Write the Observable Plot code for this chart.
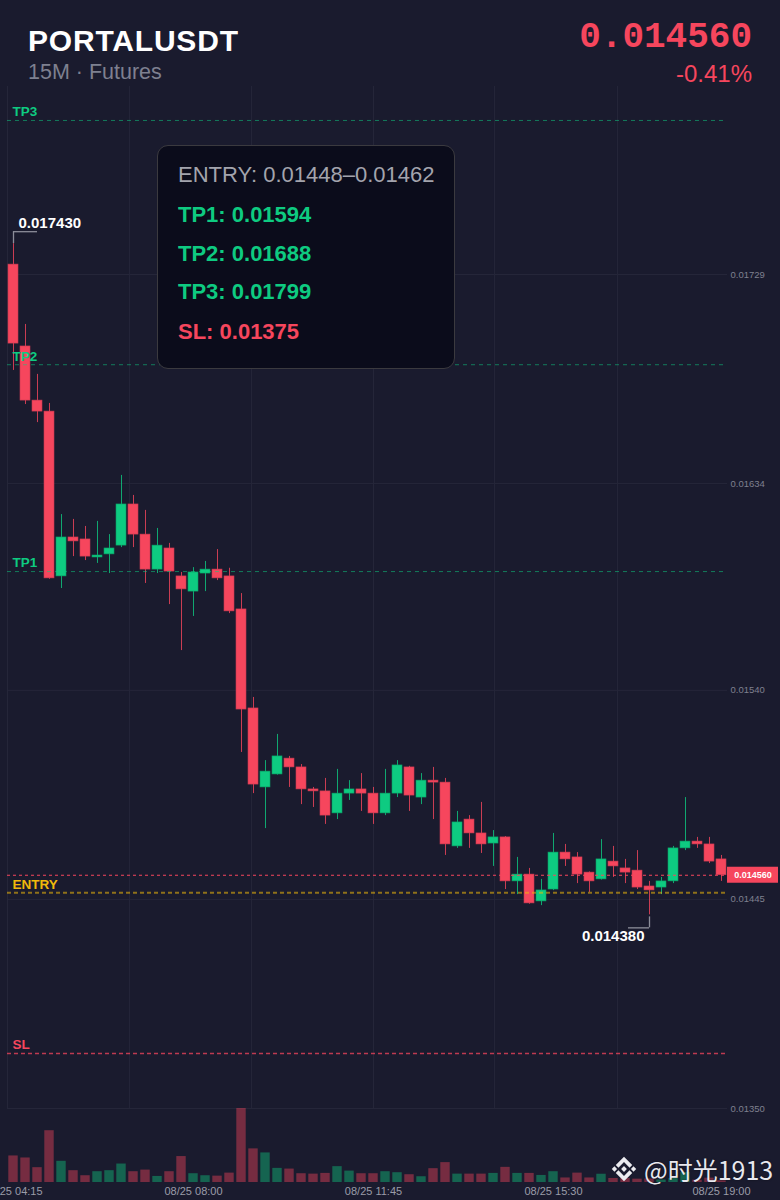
<!DOCTYPE html>
<html><head><meta charset="utf-8">
<script src="https://cdn.jsdelivr.net/npm/d3@7"></script>
<script src="https://cdn.jsdelivr.net/npm/@observablehq/plot@0.6"></script>
<style>
html,body{margin:0;padding:0;background:#1a1b2e;}
#page{position:relative;width:780px;height:1200px;overflow:hidden;background:#1a1b2e;font-family:"Liberation Sans",Arial,sans-serif;}
#page svg{position:absolute;left:0;}
.abs{position:absolute;white-space:nowrap;line-height:1;z-index:3;}
</style></head><body>
<div id="page"></div>
<script>
// ---------- data ----------
const symbol = "PORTALUSDT";
const subtitle = "15M · Futures";
const changePct = "-0.41%";

const opens = [0.017335,0.016963,0.016717,0.016667,0.015918,0.016095,0.016086,0.016004,0.016018,0.016058,
  0.016245,0.016108,0.015949,0.016045,0.015918,0.015849,0.015931,0.015949,0.015918,0.015768,
  0.015318,0.014959,0.015018,0.015090,0.015050,0.014950,0.014941,0.014841,0.014931,0.014950,
  0.014931,0.014841,0.014931,0.015050,0.014913,0.014990,0.014981,0.014691,0.014813,0.014750,
  0.014704,0.014732,0.014532,0.014563,0.014441,0.014495,0.014663,0.014641,0.014572,0.014541,
  0.014622,0.014591,0.014581,0.014509,0.014504,0.014532,0.014682,0.014713,0.014700,0.014632];
const highs = [0.017430,0.017063,0.016836,0.016704,0.016199,0.016177,0.016145,0.016168,0.016108,0.016377,
  0.016286,0.016218,0.016136,0.016068,0.015936,0.015958,0.015986,0.016040,0.015955,0.015840,
  0.015368,0.015081,0.015200,0.015100,0.015063,0.014959,0.015000,0.015041,0.014990,0.015022,
  0.014959,0.015041,0.015081,0.015055,0.015022,0.015050,0.015000,0.014850,0.014831,0.014891,
  0.014763,0.014736,0.014641,0.014591,0.014541,0.014750,0.014700,0.014663,0.014575,0.014722,
  0.014691,0.014632,0.014672,0.014532,0.014550,0.014691,0.014913,0.014732,0.014732,0.014650];
const lows = [0.016854,0.016699,0.016617,0.015905,0.015863,0.016008,0.015990,0.015977,0.015931,0.016049,
  0.016049,0.015886,0.015931,0.015790,0.015581,0.015736,0.015849,0.015899,0.015749,0.015118,
  0.014931,0.014772,0.015015,0.014959,0.014881,0.014868,0.014791,0.014813,0.014900,0.014850,
  0.014791,0.014831,0.014913,0.014850,0.014881,0.014813,0.014650,0.014682,0.014682,0.014659,
  0.014600,0.014495,0.014472,0.014428,0.014422,0.014490,0.014600,0.014522,0.014482,0.014538,
  0.014550,0.014522,0.014495,0.014380,0.014472,0.014522,0.014672,0.014682,0.014613,0.014532];
const closes = [0.016976,0.016717,0.016667,0.015909,0.016095,0.016077,0.016008,0.016013,0.016045,0.016245,
  0.016108,0.015949,0.016058,0.015940,0.015859,0.015936,0.015949,0.015909,0.015759,0.015313,
  0.014972,0.015031,0.015100,0.015050,0.014950,0.014941,0.014831,0.014931,0.014950,0.014931,
  0.014841,0.014931,0.015059,0.014922,0.014990,0.014981,0.014700,0.014800,0.014750,0.014700,
  0.014732,0.014532,0.014563,0.014432,0.014491,0.014663,0.014632,0.014563,0.014532,0.014632,
  0.014600,0.014572,0.014504,0.014491,0.014532,0.014682,0.014713,0.014700,0.014622,0.014560];
const volumes = [263,243,147,513,210,117,67,107,117,183,
  107,123,60,107,257,87,67,63,93,733,
  333,293,140,133,87,83,90,157,113,87,
  87,107,97,77,57,137,197,83,83,83,
  90,150,90,90,70,107,45,93,45,82,
  40,40,33,35,25,40,100,23,43,17];

const priceTicks = [0.01350, 0.01445, 0.01540, 0.01634, 0.01729];
const priceTickLabels = ["0.01350", "0.01445", "0.01540", "0.01634", "0.01729"];
const gridIdx = [-0.5, 9.67, 19.83, 30, 40.08, 50.33];
const xTickIdx = [0, 15, 30, 45, 59];
const xTickLabels = ["08/25 04:15", "08/25 08:00", "08/25 11:45", "08/25 15:30", "08/25 19:00"];

const levelNames = ["TP3", "TP2", "TP1", "ENTRY", "SL"];
const levelValues = [0.01799, 0.01688, 0.01594, 0.01448, 0.01375];
const entryHigh = 0.01462;
const watermark = "@时光1913";

// ---------- styles ----------
const UP = "#0ecb81", DOWN = "#f6465d", GOLD = "#f0b90b", GRID = "#252639";
const xDomain = [-0.5, 59.5];

const candles = opens.map((o, i) => ({i, open: o, high: highs[i], low: lows[i], close: closes[i], vol: volumes[i], up: closes[i] >= o}));
const ups = candles.filter(d => d.up), downs = candles.filter(d => !d.up);
const levels = levelNames.map((n, i) => ({name: n, value: levelValues[i]}));
const tps = levels.filter(d => d.name.startsWith("TP"));
const entry = levels.filter(d => d.name === "ENTRY");
const sl = levels.filter(d => d.name === "SL");
const current = closes[closes.length - 1];
const hiIdx = d3.maxIndex(highs), loIdx = d3.minIndex(lows);
const hiPt = [{i: hiIdx, v: highs[hiIdx]}], loPt = [{i: loIdx, v: lows[loIdx]}];
const levelColor = n => n === "ENTRY" ? GOLD : n === "SL" ? DOWN : UP;

const page = document.getElementById("page");

const main = Plot.plot({
  width: 780, height: 1200,
  marginTop: 86, marginBottom: 92, marginLeft: 7, marginRight: 53,
  style: {background: "transparent", fontFamily: "Liberation Sans, Arial, sans-serif", top: "0px"},
  x: {domain: xDomain, axis: null},
  y: {domain: [0.01350, 0.01729], range: [1108, 274], axis: null},
  marks: [
    Plot.ruleY(priceTicks, {stroke: GRID, strokeWidth: 1}),
    Plot.ruleX(gridIdx, {stroke: GRID, strokeWidth: 1}),
    Plot.ruleX(downs, {x: "i", y1: "low", y2: "high", stroke: DOWN, strokeOpacity: 0.8}),
    Plot.ruleX(ups, {x: "i", y1: "low", y2: "high", stroke: UP, strokeOpacity: 0.8}),
    Plot.rect(downs, {x1: d => d.i - 0.5, x2: d => d.i + 0.5, y1: "open", y2: "close", insetLeft: 1, insetRight: 1, fill: DOWN, stroke: "#c73a51", strokeWidth: 0.6}),
    Plot.rect(ups, {x1: d => d.i - 0.5, x2: d => d.i + 0.5, y1: "open", y2: "close", insetLeft: 1, insetRight: 1, fill: UP, stroke: "#0a9d65", strokeWidth: 0.6}),
    Plot.ruleY(tps, {y: "value", stroke: UP, strokeOpacity: 0.55, strokeDasharray: "4,4", strokeWidth: 1}),
    Plot.ruleY(entry, {y: "value", stroke: GOLD, strokeOpacity: 0.55, strokeDasharray: "4,3", strokeWidth: 2}),
    Plot.ruleY(sl, {y: "value", stroke: DOWN, strokeOpacity: 0.75, strokeDasharray: "4,3", strokeWidth: 1.5}),
    Plot.ruleY([current], {stroke: DOWN, strokeOpacity: 1, strokeDasharray: "3,3", strokeWidth: 1.2}),
    Plot.text(levels, {y: "value", frameAnchor: "left", dx: 5, dy: -8.5, text: "name", textAnchor: "start",
      fill: d => levelColor(d.name), fontWeight: "bold", fontSize: 13.5}),
    Plot.text(priceTicks, {y: d => d, frameAnchor: "right", dx: 3, textAnchor: "start",
      text: (d, i) => priceTickLabels[i], fill: "#7f808e", fontSize: 9.5}),
    Plot.rect([current], {x1: xDomain[1], x2: xDomain[1], y1: d => d, y2: d => d,
      insetRight: -51, insetTop: -8, insetBottom: -8, fill: DOWN}),
    Plot.text([current], {y: d => d, frameAnchor: "right", dx: 25.5, textAnchor: "middle", text: d => d.toFixed(6),
      fill: "#ffffff", fontWeight: "bold", fontSize: 9}),
    Plot.ruleX(hiPt, {x: "i", y1: "v", y2: "v", insetTop: -12, stroke: "#8b8d99", strokeWidth: 1.3}),
    Plot.ruleY(hiPt, {y: "v", x1: "i", x2: "i", insetRight: -24, dy: -12, stroke: "#8b8d99", strokeWidth: 1.3}),
    Plot.text(hiPt, {x: "i", y: "v", dx: 5, dy: -21, textAnchor: "start", text: d => d.v.toFixed(6),
      fill: "#ffffff", fontWeight: "bold", fontSize: 15}),
    Plot.ruleX(loPt, {x: "i", y1: "v", y2: "v", insetTop: 2, insetBottom: -13, stroke: "#8b8d99", strokeWidth: 1.3}),
    Plot.ruleY(loPt, {y: "v", x1: "i", x2: "i", insetLeft: -21, dy: 13, stroke: "#8b8d99", strokeWidth: 1.3}),
    Plot.text(loPt, {x: "i", y: "v", dx: -5, dy: 21, textAnchor: "end", text: d => d.v.toFixed(6),
      fill: "#ffffff", fontWeight: "bold", fontSize: 15})
  ]
});
main.style.top = "0px";
page.appendChild(main);

const vol = Plot.plot({
  width: 780, height: 100,
  marginTop: 0, marginBottom: 18, marginLeft: 7, marginRight: 53,
  style: {background: "transparent", fontFamily: "Liberation Sans, Arial, sans-serif"},
  x: {domain: xDomain, axis: null},
  y: {domain: [0, d3.max(volumes)], range: [82, 8], axis: null},
  marks: [
    Plot.rectY(downs, {x1: d => d.i - 0.5, x2: d => d.i + 0.5, y: "vol", insetLeft: 1.3, insetRight: 1.3, fill: DOWN, fillOpacity: 0.42}),
    Plot.rectY(ups, {x1: d => d.i - 0.5, x2: d => d.i + 0.5, y: "vol", insetLeft: 1.3, insetRight: 1.3, fill: UP, fillOpacity: 0.42}),
    Plot.text(xTickIdx, {x: d => d, frameAnchor: "bottom", dy: 12, text: (d, i) => xTickLabels[i], fill: "#9a9ba8", fontSize: 11})
  ]
});
vol.style.top = "1100px";
page.appendChild(vol);

// ---------- header, info box, watermark ----------
function add(html, css) {
  const el = document.createElement("div");
  el.className = "abs";
  el.innerHTML = html;
  Object.assign(el.style, css);
  page.appendChild(el);
  return el;
}
add(symbol, {left: "28px", top: "25.6px", fontSize: "30px", fontWeight: "bold", color: "#ffffff", letterSpacing: "0.8px"});
add(subtitle, {left: "28px", top: "61.8px", fontSize: "21.5px", color: "#7e8090"});
add(current.toFixed(6), {right: "28px", top: "20px", fontSize: "36px", fontWeight: "bold", color: DOWN, fontFamily: "'Liberation Mono', monospace"});
add(changePct, {right: "28px", top: "62px", fontSize: "24px", color: DOWN});

add("", {left: "157px", top: "145px", width: "298px", height: "224px", boxSizing: "border-box",
  border: "1.5px solid #3b3a3f", borderRadius: "11px", background: "#0b0c1b"});
const entryVal = levelValues[levelNames.indexOf("ENTRY")];
const boxLines = [
  {t: `ENTRY: ${entryVal.toFixed(5)}–${entryHigh.toFixed(5)}`, c: "#a3a4ad", w: "normal", top: 163.7},
  {t: `TP1: ${levelValues[2].toFixed(5)}`, c: UP, w: "bold", top: 203.7},
  {t: `TP2: ${levelValues[1].toFixed(5)}`, c: UP, w: "bold", top: 243.4},
  {t: `TP3: ${levelValues[0].toFixed(5)}`, c: UP, w: "bold", top: 281.1},
  {t: `SL: ${levelValues[4].toFixed(5)}`, c: DOWN, w: "bold", top: 321.1}
];
boxLines.forEach(l => add(l.t, {left: "178px", top: l.top + "px", fontSize: "22px", fontWeight: l.w, color: l.c}));

const logo = `<svg width="28" height="28" viewBox="0 0 126 126" style="position:static;display:block">
<g fill="#ececf0">
<polygon points="63,8 100,45 88,57 63,32 38,57 26,45"/>
<polygon points="63,118 100,81 88,69 63,94 38,69 26,81"/>
<polygon points="8,63 20,51 32,63 20,75"/>
<polygon points="94,63 106,51 118,63 106,75"/>
<polygon points="63,50 76,63 63,76 50,63"/>
</g></svg>`;
add(`<div style="display:flex;align-items:center">${logo}<span style="margin-left:6px;font-family:'Noto Sans CJK SC',sans-serif;font-size:25px;line-height:1;color:#e8e8ee;text-shadow:0 0 2px rgba(0,0,0,0.5)">${watermark}</span></div>`,
  {left: "610px", top: "1155px"});
</script>
</body></html>
